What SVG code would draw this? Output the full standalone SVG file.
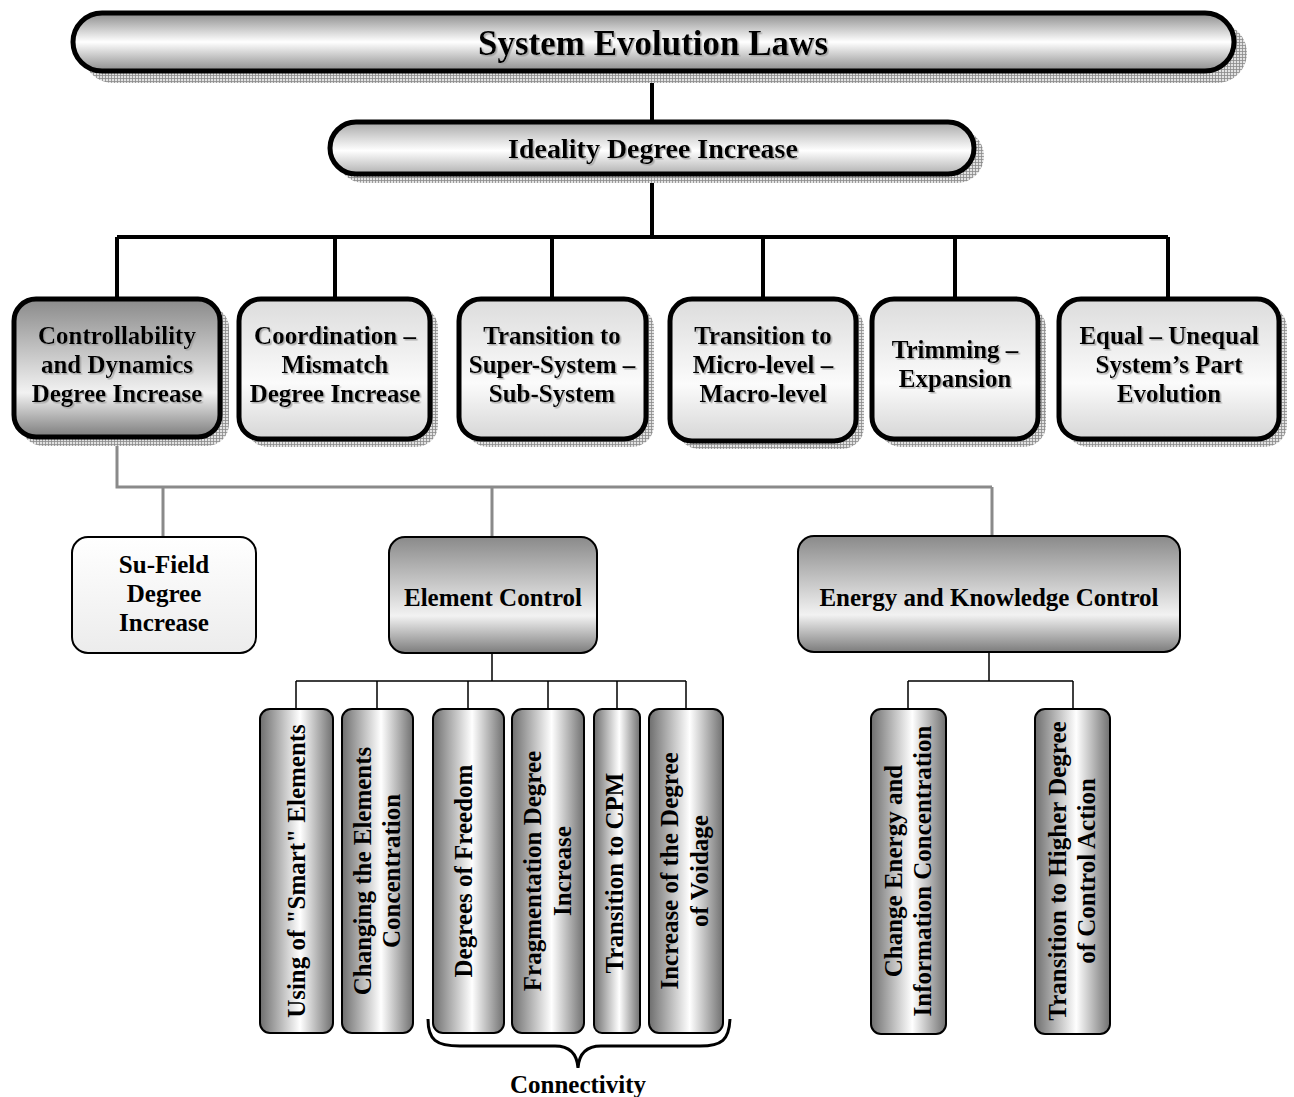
<svg xmlns="http://www.w3.org/2000/svg" width="1294" height="1097" viewBox="0 0 1294 1097">
  <defs>
    <!-- fine grid used for the drop shadows of the upper nodes -->
    <pattern id="grid" width="3" height="3" patternUnits="userSpaceOnUse">
      <rect width="3" height="3" fill="#e2e2e2"/>
      <path d="M0 0.5H3M0.5 0V3" stroke="#8a8a8a" stroke-width="0.8"/>
    </pattern>
    <linearGradient id="pill" x1="0" y1="0" x2="0" y2="1">
      <stop offset="0" stop-color="#8c8c8c"/>
      <stop offset="0.5" stop-color="#ffffff"/>
      <stop offset="1" stop-color="#8c8c8c"/>
    </linearGradient>
    <linearGradient id="pillLight" x1="0" y1="0" x2="0" y2="1">
      <stop offset="0" stop-color="#a8a8a8"/>
      <stop offset="0.55" stop-color="#ffffff"/>
      <stop offset="1" stop-color="#b0b0b0"/>
    </linearGradient>
    <linearGradient id="dark" x1="0" y1="0" x2="0" y2="1">
      <stop offset="0" stop-color="#8a8a8a"/>
      <stop offset="0.68" stop-color="#f2f2f2"/>
      <stop offset="1" stop-color="#7c7c7c"/>
    </linearGradient>
    <linearGradient id="light" x1="0" y1="0" x2="0" y2="1">
      <stop offset="0" stop-color="#dcdcdc"/>
      <stop offset="0.6" stop-color="#fbfbfb"/>
      <stop offset="1" stop-color="#d6d6d6"/>
    </linearGradient>
    <linearGradient id="pale" x1="0" y1="0" x2="0" y2="1">
      <stop offset="0" stop-color="#ffffff"/>
      <stop offset="1" stop-color="#ececec"/>
    </linearGradient>
    <linearGradient id="column" x1="0" y1="0" x2="1" y2="0">
      <stop offset="0" stop-color="#6e6e6e"/>
      <stop offset="0.55" stop-color="#ffffff"/>
      <stop offset="1" stop-color="#707070"/>
    </linearGradient>
    <filter id="tshadow" x="-5%" y="-20%" width="110%" height="140%">
      <feDropShadow dx="1.5" dy="1.5" stdDeviation="0.6" flood-color="#9a9a9a" flood-opacity="0.8"/>
    </filter>
  </defs>
  <style>
    text { font-family: "Liberation Serif", "Times New Roman", serif; font-weight: bold; fill: #000; text-anchor: middle; }
    .t1 { font-size: 35px; }
    .t2 { font-size: 28px; }
    .t3 { font-size: 25px; }
    .t4 { font-size: 25px; }
    .sh { filter: url(#tshadow); }
    .thick { fill: none; stroke: #000; stroke-width: 4; }
    .gray { fill: none; stroke: #8a8a8a; stroke-width: 3; }
    .thin { fill: none; stroke: #000; stroke-width: 1.5; }
    .shadow { fill: url(#grid); }
    .bigbox { stroke: #000; stroke-width: 5; }
    .midbox { stroke: #000; stroke-width: 2; }
    .col { fill: url(#column); stroke: #000; stroke-width: 2; }
  </style>

  <!-- connectors -->
  <g id="connectors">
    <path class="thick" d="M652 72V122M652 175V237M117 237H1168M117 237V299M335 237V299M552 237V299M763 237V299M955 237V299M1168 237V299"/>
    <path class="gray" d="M117 438V487H992M163 487V537M492 487V537M992 487V537"/>
    <path class="thin" d="M492 653V681M296 681H686M296 681V709M377 681V709M468 681V709M548 681V709M617 681V709M686 681V709"/>
    <path class="thin" d="M989 652V681M908 681H1073M908 681V709M1073 681V709"/>
  </g>

  <g id="system-evolution-laws">
    <rect class="shadow" x="83" y="23" width="1164" height="60" rx="30"/>
    <rect class="bigbox" x="73" y="13" width="1161" height="58" rx="29" fill="url(#pill)" stroke-width="6"/>
    <text class="t1 sh" x="653" y="55">System Evolution Laws</text>
  </g>

  <g id="ideality-degree-increase">
    <rect class="shadow" x="337" y="129" width="647" height="54" rx="27"/>
    <rect class="bigbox" x="330" y="122" width="644" height="52" rx="26" fill="url(#pillLight)"/>
    <text class="t2 sh" x="653" y="158">Ideality Degree Increase</text>
  </g>

  <g id="controllability">
    <rect class="shadow" x="21" y="306" width="208" height="140" rx="22"/>
    <rect class="bigbox" x="14" y="299" width="206" height="138" rx="22" fill="url(#dark)"/>
    <text class="t3 sh" x="117" y="344">Controllability</text>
    <text class="t3 sh" x="117" y="373">and Dynamics</text>
    <text class="t3 sh" x="117" y="402">Degree Increase</text>
  </g>

  <g id="coordination">
    <rect class="shadow" x="246" y="306" width="192" height="141" rx="22"/>
    <rect class="bigbox" x="239" y="299" width="191" height="140" rx="22" fill="url(#light)"/>
    <text class="t3 sh" x="335" y="344">Coordination –</text>
    <text class="t3 sh" x="335" y="373">Mismatch</text>
    <text class="t3 sh" x="335" y="402">Degree Increase</text>
  </g>

  <g id="super-system">
    <rect class="shadow" x="466" y="306" width="188" height="141" rx="22"/>
    <rect class="bigbox" x="459" y="299" width="187" height="140" rx="22" fill="url(#light)"/>
    <text class="t3 sh" x="552" y="344">Transition to</text>
    <text class="t3 sh" x="552" y="373">Super-System –</text>
    <text class="t3 sh" x="552" y="402">Sub-System</text>
  </g>

  <g id="micro-macro">
    <rect class="shadow" x="677" y="306" width="187" height="143" rx="22"/>
    <rect class="bigbox" x="670" y="299" width="186" height="142" rx="22" fill="url(#light)"/>
    <text class="t3 sh" x="763" y="344">Transition to</text>
    <text class="t3 sh" x="763" y="373">Micro-level –</text>
    <text class="t3 sh" x="763" y="402">Macro-level</text>
  </g>

  <g id="trimming">
    <rect class="shadow" x="879" y="306" width="167" height="141" rx="22"/>
    <rect class="bigbox" x="872" y="299" width="166" height="140" rx="22" fill="url(#light)"/>
    <text class="t3 sh" x="955" y="358">Trimming –</text>
    <text class="t3 sh" x="955" y="387">Expansion</text>
  </g>

  <g id="equal-unequal">
    <rect class="shadow" x="1066" y="306" width="221" height="141" rx="22"/>
    <rect class="bigbox" x="1059" y="299" width="220" height="140" rx="22" fill="url(#light)"/>
    <text class="t3 sh" x="1169" y="344">Equal – Unequal</text>
    <text class="t3 sh" x="1169" y="373">System’s Part</text>
    <text class="t3 sh" x="1169" y="402">Evolution</text>
  </g>

  <g id="su-field">
    <rect class="midbox" x="72" y="537" width="184" height="116" rx="16" fill="url(#pale)"/>
    <text class="t3" x="164" y="573">Su-Field</text>
    <text class="t3" x="164" y="602">Degree</text>
    <text class="t3" x="164" y="631">Increase</text>
  </g>

  <g id="element-control">
    <rect class="midbox" x="389" y="537" width="208" height="116" rx="16" fill="url(#dark)"/>
    <text class="t3" x="493" y="606">Element Control</text>
  </g>

  <g id="energy-knowledge">
    <rect class="midbox" x="798" y="536" width="382" height="116" rx="16" fill="url(#dark)"/>
    <text class="t3" x="989" y="606">Energy and Knowledge Control</text>
  </g>

  <!-- vertical leaf columns under Element Control -->
  <g id="smart-elements">
    <rect class="col" x="260" y="709" width="73" height="324" rx="10"/>
    <text class="t4" transform="translate(296 871) rotate(-90)" dy="0.35em">Using of "Smart" Elements</text>
  </g>
  <g id="elements-concentration">
    <rect class="col" x="342" y="709" width="71" height="324" rx="10"/>
    <text class="t4" transform="translate(362 871) rotate(-90)" dy="0.35em">Changing the Elements</text>
    <text class="t4" transform="translate(391 871) rotate(-90)" dy="0.35em">Concentration</text>
  </g>
  <g id="degrees-of-freedom">
    <rect class="col" x="433" y="709" width="71" height="324" rx="10"/>
    <text class="t4" transform="translate(463 871) rotate(-90)" dy="0.35em">Degrees of Freedom</text>
  </g>
  <g id="fragmentation">
    <rect class="col" x="512" y="709" width="72" height="324" rx="10"/>
    <text class="t4" transform="translate(532 871) rotate(-90)" dy="0.35em">Fragmentation Degree</text>
    <text class="t4" transform="translate(562 871) rotate(-90)" dy="0.35em">Increase</text>
  </g>
  <g id="cpm">
    <rect class="col" x="594" y="709" width="46" height="324" rx="8"/>
    <text class="t4" transform="translate(614 873) rotate(-90)" dy="0.35em">Transition to CPM</text>
  </g>
  <g id="voidage">
    <rect class="col" x="649" y="709" width="74" height="324" rx="10"/>
    <text class="t4" transform="translate(669 871) rotate(-90)" dy="0.35em">Increase of the Degree</text>
    <text class="t4" transform="translate(699 871) rotate(-90)" dy="0.35em">of Voidage</text>
  </g>

  <!-- brace grouping the connectivity columns -->
  <g id="connectivity">
    <path d="M428 1019C428 1040 436 1046 460 1046H555C570 1046 577 1054 578 1068C579 1054 586 1046 601 1046H700C722 1046 729 1040 730 1019" fill="none" stroke="#000" stroke-width="3"/>
    <text class="t3" x="578" y="1093">Connectivity</text>
  </g>

  <!-- vertical leaf columns under Energy and Knowledge Control -->
  <g id="energy-concentration">
    <rect class="col" x="871" y="709" width="75" height="325" rx="10"/>
    <text class="t4" transform="translate(893 871) rotate(-90)" dy="0.35em">Change Energy and</text>
    <text class="t4" transform="translate(922 871) rotate(-90)" dy="0.35em">Information Concentration</text>
  </g>
  <g id="higher-control">
    <rect class="col" x="1035" y="709" width="75" height="325" rx="10"/>
    <text class="t4" transform="translate(1057 871) rotate(-90)" dy="0.35em">Transition to Higher Degree</text>
    <text class="t4" transform="translate(1086 871) rotate(-90)" dy="0.35em">of Control Action</text>
  </g>
</svg>
